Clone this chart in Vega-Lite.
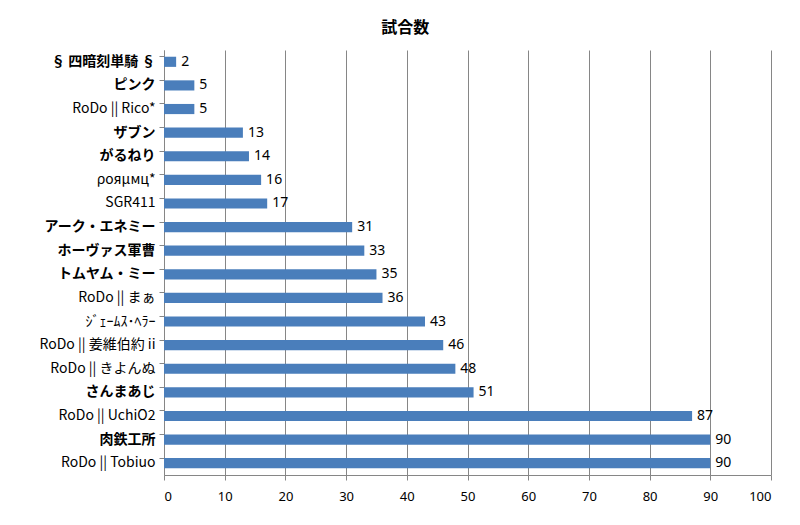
{
  "$schema": "https://vega.github.io/schema/vega-lite/v6.json",
  "autosize": "none",
  "width": 607,
  "height": 425,
  "padding": {"left": 164, "top": 50, "right": 29, "bottom": 50},
  "background": "white",
  "title": {"text": "試合数", "font": "Noto Sans CJK JP", "fontSize": 16, "fontWeight": "bold", "color": "#000000", "anchor": "middle", "frame": "bounds", "offset": 14},
  "config": {"view": {"stroke": null}},
  "data": {"values": [
    {"name": "§ 四暗刻単騎 §", "v": 2},
    {"name": "ピンク", "v": 5},
    {"name": "RoDo || Rico*", "v": 5},
    {"name": "ザブン", "v": 13},
    {"name": "がるねり", "v": 14},
    {"name": "ροяμмц*", "v": 16},
    {"name": "SGR411", "v": 17},
    {"name": "アーク・エネミー", "v": 31},
    {"name": "ホーヴァス軍曹", "v": 33},
    {"name": "トムヤム・ミー", "v": 35},
    {"name": "RoDo || まぁ", "v": 36},
    {"name": "ｼﾞｪｰﾑｽ･ﾍﾗｰ", "v": 43},
    {"name": "RoDo || 姜維伯約 ii", "v": 46},
    {"name": "RoDo || きよんぬ", "v": 48},
    {"name": "さんまあじ", "v": 51},
    {"name": "RoDo || UchiO2", "v": 87},
    {"name": "肉鉄工所", "v": 90},
    {"name": "RoDo || Tobiuo", "v": 90}
  ]},
  "encoding": {
    "y": {"field": "name", "type": "nominal", "sort": null,
      "scale": {"paddingInner": 0.57, "paddingOuter": 0.285},
      "axis": {"title": null, "domainColor": "#868686", "tickColor": "#868686", "tickSize": 5, "bandPosition": 0,
        "labelFont": "Noto Sans CJK JP", "labelFontSize": 14, "labelColor": "#000000", "labelPadding": 4,
        "labelFontWeight": {"condition": {"test": "indexof(datum.value, 'RoDo') === 0 || datum.value === 'SGR411' || datum.value === 'ροяμмц*' || datum.value === 'ｼﾞｪｰﾑｽ･ﾍﾗｰ'", "value": "normal"}, "value": "bold"}}},
    "x": {"field": "v", "type": "quantitative",
      "scale": {"domain": [0, 100], "nice": false},
      "axis": {"title": null, "values": [0,10,20,30,40,50,60,70,80,90,100], "grid": true, "gridColor": "#868686", "gridOpacity": 1,
        "domainColor": "#868686", "tickColor": "#868686", "tickSize": 5, "labelFont": "Noto Sans", "labelFontSize": 13, "labelColor": "#000000", "labelPadding": 10}}
  },
  "layer": [
    {"mark": {"type": "bar", "color": "#4a7ebb"}},
    {"mark": {"type": "text", "align": "left", "baseline": "middle", "dx": 5, "font": "Noto Sans", "fontSize": 14, "color": "#000000"},
     "encoding": {"text": {"field": "v", "type": "quantitative"}}}
  ]
}
